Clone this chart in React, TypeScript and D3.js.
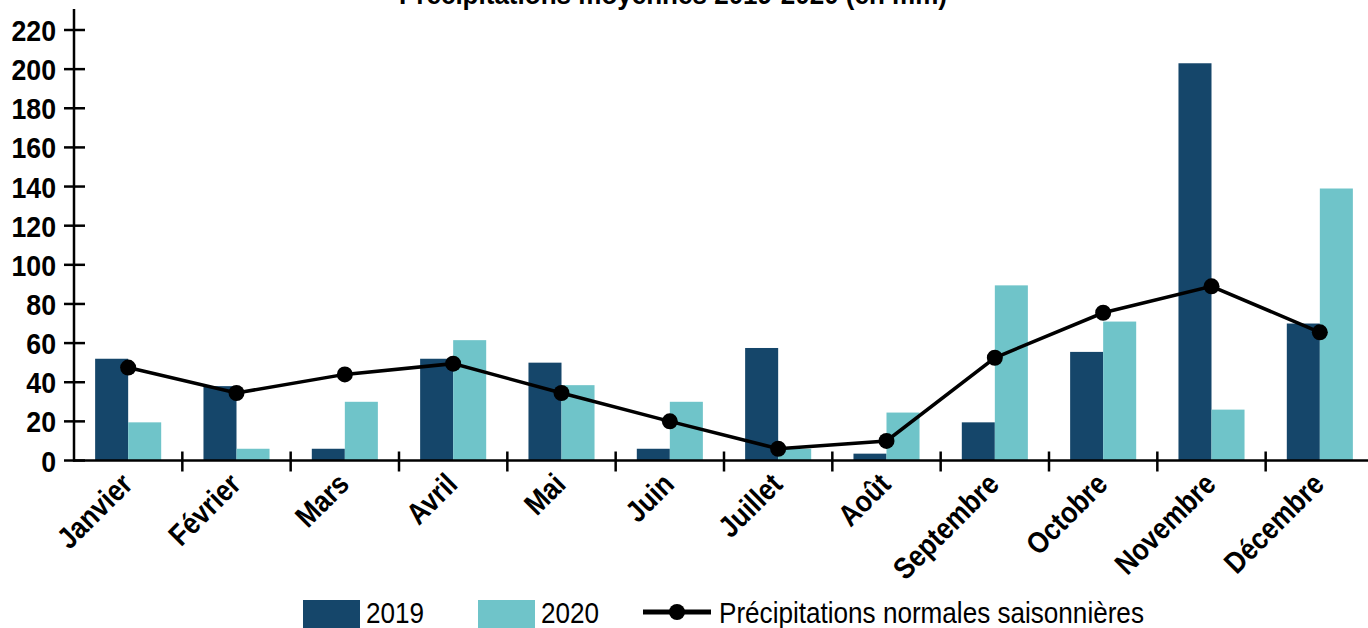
import * as d3 from "d3";
import { useEffect } from "react";

const months = [
  "Janvier", "Février", "Mars", "Avril", "Mai", "Juin",
  "Juillet", "Août", "Septembre", "Octobre", "Novembre", "Décembre",
];
const rain2019 = [52, 38, 6, 52, 50, 6, 57.5, 3.5, 19.5, 55.5, 203, 70];
const rain2020 = [19.5, 6, 30, 61.5, 38.5, 30, 6, 24.5, 89.5, 71, 26, 139];
const normals = [47.5, 34.5, 44, 49.5, 34.5, 20, 6, 10, 52.5, 75.5, 89, 65.5];
const yTicks = [0, 20, 40, 60, 80, 100, 120, 140, 160, 180, 200, 220];
const seriesNames = ["2019", "2020"];

const W = 1368;
const H = 628;
const FONT = "'Liberation Sans', Arial, sans-serif";
const DARK = "#15466a";
const LIGHT = "#6fc4c9";

// the reference uses a condensed face, so squeeze text horizontally
function Squeezed({ x, y, sx, rotate = 0, anchor = "start", size, weight = "normal", children }: {
  x: number; y: number; sx: number; rotate?: number; anchor?: string;
  size: number; weight?: string; children: React.ReactNode;
}) {
  return (
    <text
      transform={`translate(${x},${y}) rotate(${rotate}) scale(${sx},1)`}
      textAnchor={anchor}
      fontSize={size}
      fontWeight={weight}
    >
      {children}
    </text>
  );
}

export default function App() {
  useEffect(() => {
    document.body.style.margin = "0";
  }, []);

  const x = d3.scaleBand<string>().domain(months).range([74, 1374]).padding(0);
  const x1 = d3
    .scaleBand<string>()
    .domain(seriesNames)
    .range([0, x.bandwidth()])
    .paddingInner(0)
    .paddingOuter(0.64);
  const y = d3.scaleLinear().domain([0, 220]).range([460.5, 30]);
  const cx = (m: string) => (x(m) ?? 0) + x.bandwidth() / 2;

  const line = d3
    .line<number>()
    .x((_, i) => cx(months[i]))
    .y((v) => y(v));

  const bars = [rain2019, rain2020];
  const colors = [DARK, LIGHT];
  const y0 = y(0);

  return (
    <svg width={W} height={H} style={{ display: "block" }} fontFamily={FONT}>
      <Squeezed x={673} y={4} sx={0.93} anchor="middle" size={28} weight="bold">
        Précipitations moyennes 2019-2020 (en mm)
      </Squeezed>

      {bars.map((series, s) =>
        series.map((v, i) => (
          <rect
            key={`${s}-${i}`}
            x={(x(months[i]) ?? 0) + (x1(seriesNames[s]) ?? 0)}
            y={y(v)}
            width={x1.bandwidth()}
            height={y0 - y(v)}
            fill={colors[s]}
          />
        ))
      )}

      {/* axes */}
      <line x1={74} x2={74} y1={9} y2={y0 + 1} stroke="#000" strokeWidth={2.5} />
      <line x1={73} x2={W} y1={y0} y2={y0} stroke="#000" strokeWidth={2.5} />
      {yTicks.map((t) => (
        <g key={t}>
          <line x1={64} x2={85} y1={y(t)} y2={y(t)} stroke="#000" strokeWidth={2.5} />
          <Squeezed x={56} y={y(t) + 11} sx={0.89} anchor="end" size={30} weight="bold">
            {t}
          </Squeezed>
        </g>
      ))}
      {months.slice(1).map((m) => (
        <line
          key={m}
          x1={x(m)}
          x2={x(m)}
          y1={y0 - 9}
          y2={y0 + 11}
          stroke="#000"
          strokeWidth={2.5}
        />
      ))}
      {months.map((m) => (
        <Squeezed
          key={m}
          x={cx(m) + 6}
          y={486}
          sx={0.87}
          rotate={-45}
          anchor="end"
          size={30}
          weight="bold"
        >
          {m}
        </Squeezed>
      ))}

      {/* normal line */}
      <path d={line(normals) ?? ""} fill="none" stroke="#000" strokeWidth={3.5} />
      {normals.map((v, i) => (
        <circle key={i} cx={cx(months[i])} cy={y(v)} r={8} fill="#000" />
      ))}

      {/* legend */}
      <rect x={303} y={600} width={57} height={40} fill={DARK} />
      <Squeezed x={366} y={623} sx={0.87} size={30}>2019</Squeezed>
      <rect x={478} y={600} width={57} height={40} fill={LIGHT} />
      <Squeezed x={541} y={623} sx={0.87} size={30}>2020</Squeezed>
      <line x1={643} x2={711} y1={612} y2={612} stroke="#000" strokeWidth={5} />
      <circle cx={677} cy={612} r={8} fill="#000" />
      <Squeezed x={719} y={623} sx={0.87} size={30}>
        Précipitations normales saisonnières
      </Squeezed>
    </svg>
  );
}
